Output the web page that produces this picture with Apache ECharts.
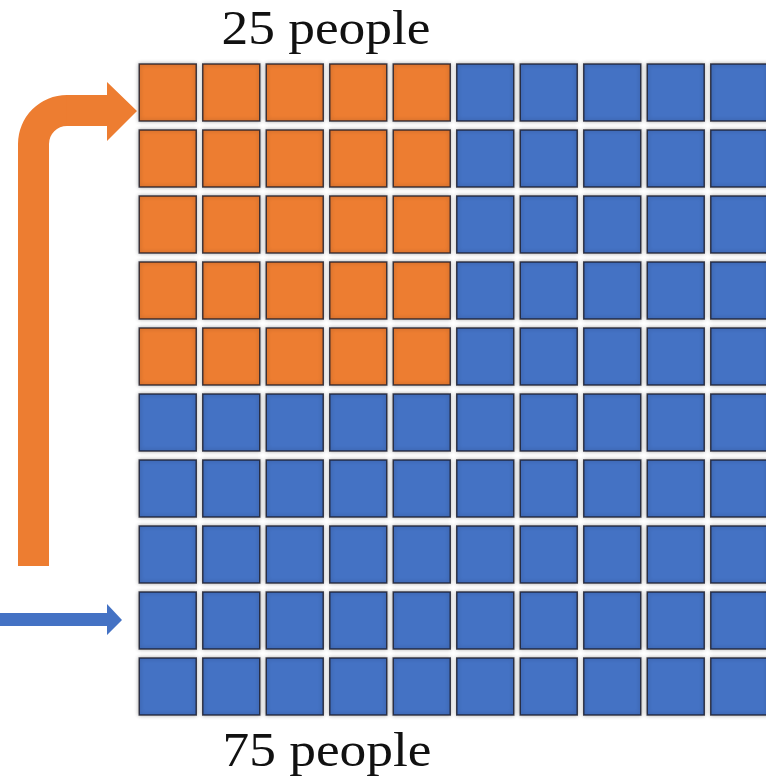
<!DOCTYPE html>
<html>
<head>
<meta charset="utf-8">
<title>25 people / 75 people</title>
<script src="https://cdn.jsdelivr.net/npm/echarts@6/dist/echarts.min.js"></script>
<style>
  html, body { margin: 0; padding: 0; background: #fff; }
  #main { width: 766px; height: 781px; }
</style>
</head>
<body>
<div id="main"></div>
<script type="text/javascript">
// columns and rows of the 10x10 grid
var columns = ['1', '2', '3', '4', '5', '6', '7', '8', '9', '10'];
var rows = ['1', '2', '3', '4', '5', '6', '7', '8', '9', '10'];

// head counts per group and their colours
var groupCounts = [25, 75];
var groupColors = ['#ED7D31', '#4472C4'];

// which group each cell belongs to (0 = 25 people, 1 = 75 people)
var cellGroups = [
    [0, 0, 0, 0, 0, 1, 1, 1, 1, 1],
    [0, 0, 0, 0, 0, 1, 1, 1, 1, 1],
    [0, 0, 0, 0, 0, 1, 1, 1, 1, 1],
    [0, 0, 0, 0, 0, 1, 1, 1, 1, 1],
    [0, 0, 0, 0, 0, 1, 1, 1, 1, 1],
    [1, 1, 1, 1, 1, 1, 1, 1, 1, 1],
    [1, 1, 1, 1, 1, 1, 1, 1, 1, 1],
    [1, 1, 1, 1, 1, 1, 1, 1, 1, 1],
    [1, 1, 1, 1, 1, 1, 1, 1, 1, 1],
    [1, 1, 1, 1, 1, 1, 1, 1, 1, 1]
];

// split cells into one data list per group
var groupData = [[], []];
cellGroups.forEach(function (row, r) {
    row.forEach(function (g, c) {
        groupData[g].push([columns[c], rows[r]]);
    });
});

var series = groupCounts.map(function (count, i) {
    return {
        name: count + ' people',
        type: 'scatter',
        symbol: 'rect',
        symbolSize: [57, 57],
        data: groupData[i],
        itemStyle: {
            color: groupColors[i],
            borderColor: 'rgba(25,25,40,0.8)',
            borderWidth: 1.5,
            shadowBlur: 4,
            shadowColor: 'rgba(0,0,0,0.3)',
            opacity: 1
        },
        emphasis: { disabled: true }
    };
});

var textStyleBase = {
    fontFamily: '"Liberation Serif", "Times New Roman", serif',
    fontSize: 49,
    fill: '#111',
    align: 'center',
    verticalAlign: 'middle'
};

var myChart = echarts.init(document.getElementById('main'));

myChart.setOption({
    backgroundColor: '#ffffff',
    animation: false,
    grid: { left: 136, top: 59.5, width: 635, height: 660, outerBoundsMode: 'none' },
    xAxis: {
        type: 'category',
        data: columns,
        boundaryGap: true,
        axisLine: { show: false },
        axisTick: { show: false },
        axisLabel: { show: false },
        splitLine: { show: false }
    },
    yAxis: {
        type: 'category',
        data: rows,
        inverse: true,
        boundaryGap: true,
        axisLine: { show: false },
        axisTick: { show: false },
        axisLabel: { show: false },
        splitLine: { show: false }
    },
    series: series,
    graphic: [
        {
            type: 'text',
            x: 326, y: 31, scaleX: 1.09,
            style: Object.assign({ text: groupCounts[0] + ' people' }, textStyleBase)
        },
        {
            type: 'text',
            x: 327, y: 753, scaleX: 1.09,
            style: Object.assign({ text: groupCounts[1] + ' people' }, textStyleBase)
        },
        // bent orange arrow pointing at the top row
        {
            type: 'rect',
            shape: { x: 18, y: 144, width: 31, height: 422 },
            style: { fill: groupColors[0] }
        },
        {
            type: 'sector',
            shape: { cx: 67, cy: 144, r: 49, r0: 18, startAngle: Math.PI, endAngle: Math.PI * 1.5, clockwise: true },
            style: { fill: groupColors[0] }
        },
        {
            type: 'polygon',
            shape: { points: [[66.5, 95], [107, 95], [107, 82], [137, 111], [107, 141], [107, 126], [66.5, 126]] },
            style: { fill: groupColors[0] }
        },
        // straight blue arrow
        {
            type: 'polygon',
            shape: {
                points: [[0, 613], [107, 613], [107, 604], [122, 620], [107, 635], [107, 626], [0, 626]]
            },
            style: { fill: groupColors[1] }
        }
    ]
});
</script>
</body>
</html>
